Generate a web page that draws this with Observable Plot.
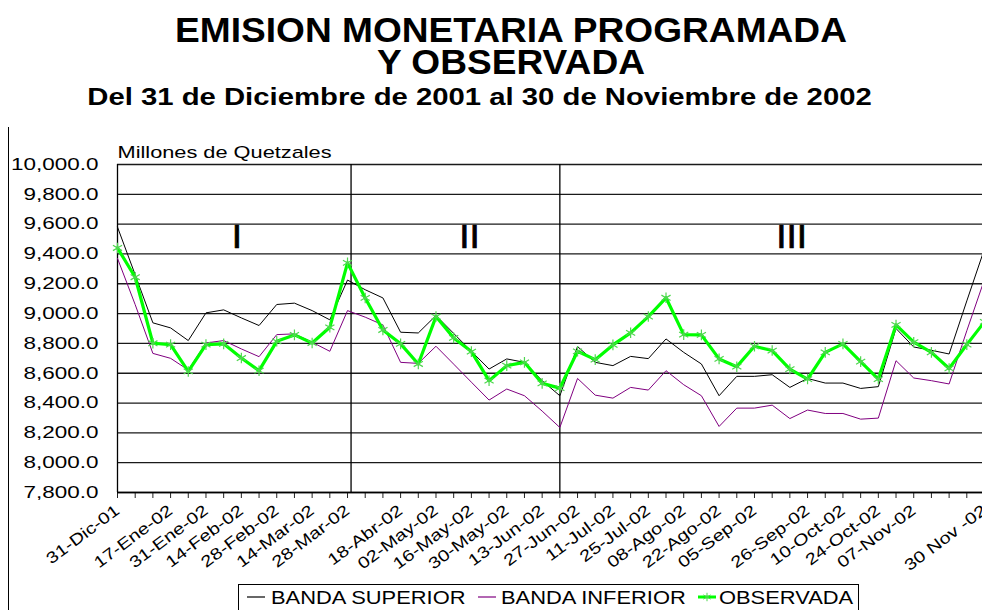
<!DOCTYPE html>
<html>
<head>
<meta charset="utf-8">
<script src="https://cdn.jsdelivr.net/npm/d3@7"></script>
<script src="https://cdn.jsdelivr.net/npm/@observablehq/plot@0.6"></script>
<style>
  body { margin: 0; background: #fff; }
  #wrap { position: relative; width: 982px; height: 610px; overflow: hidden; background: #fff;
          font-family: "Liberation Sans", Arial, sans-serif; color: #000; }
  .t { position: absolute; width: 982px; text-align: center; font-weight: bold; }
  .t span { display: inline-block; }
  #title span { width: 650px; white-space: normal; text-align: center; }
  #sub { white-space: nowrap; }
  #chart { position: absolute; left: 0; top: 120px; }
  #border { position: absolute; left: 8px; top: 127px; width: 1px; height: 490px; background: #000; }
  #legend { position: absolute; left: 238px; top: 584px; width: 621px; height: 34px; border: 1px solid #000; box-sizing: border-box; }
  .lg { position: absolute; font-size: 17.5px; line-height: 1; white-space: nowrap; transform-origin: left center; }
  .sw { position: absolute; }
</style>
</head>
<body>
<div id="wrap">
  <div class="t" id="title" style="left:20px;top:14px;font-size:35px;line-height:32px"><span style="transform:scaleX(1.06)">EMISION MONETARIA PROGRAMADA Y OBSERVADA</span></div>
  <div class="t" id="sub" style="left:-11px;top:86px;font-size:24px;line-height:0.9"><span style="transform:scaleX(1.22)">Del 31 de Diciembre de 2001 al 30 de Noviembre de 2002</span></div>
  <div id="border"></div>
  <div id="chart"></div>
</div>
<script>
// ---- data ----
const categories = [
  "31-Dic-01","03-Ene-02","10-Ene-02","17-Ene-02","24-Ene-02","31-Ene-02","07-Feb-02","14-Feb-02",
  "21-Feb-02","28-Feb-02","07-Mar-02","14-Mar-02","21-Mar-02","28-Mar-02","04-Abr-02","11-Abr-02",
  "18-Abr-02","25-Abr-02","02-May-02","09-May-02","16-May-02","23-May-02","30-May-02","06-Jun-02",
  "13-Jun-02","20-Jun-02","27-Jun-02","04-Jul-02","11-Jul-02","18-Jul-02","25-Jul-02","01-Ago-02",
  "08-Ago-02","15-Ago-02","22-Ago-02","29-Ago-02","05-Sep-02","12-Sep-02","19-Sep-02","26-Sep-02",
  "03-Oct-02","10-Oct-02","17-Oct-02","24-Oct-02","31-Oct-02","07-Nov-02","14-Nov-02","21-Nov-02",
  "28-Nov-02","30 Nov -02"
];
const shownLabels = [
  "31-Dic-01","17-Ene-02","31-Ene-02","14-Feb-02","28-Feb-02","14-Mar-02","28-Mar-02","18-Abr-02",
  "02-May-02","16-May-02","30-May-02","13-Jun-02","27-Jun-02","11-Jul-02","25-Jul-02","08-Ago-02",
  "22-Ago-02","05-Sep-02","26-Sep-02","10-Oct-02","24-Oct-02","07-Nov-02","30 Nov -02"
];
const bandaSuperior = [
  9580, 9260, 8938, 8904, 8819, 9005, 9025, 8971, 8920, 9061,
  9070, 9020, 8958, 9225, 9160, 9105, 8875, 8870, 8987, 8867,
  8747, 8628, 8696, 8673, 8550, 8449, 8779, 8673, 8651, 8713,
  8698, 8830, 8740, 8662, 8449, 8579, 8579, 8590, 8505, 8565,
  8534, 8534, 8498, 8510, 8900, 8776, 8754, 8729, 9085, 9435
];
const bandaInferior = [
  9370, 9060, 8733, 8700, 8622, 8803, 8819, 8763, 8711, 8859,
  8864, 8808, 8747, 9020, 8976, 8924, 8673, 8666, 8781, 8661,
  8540, 8420, 8494, 8449, 8346, 8236, 8565, 8453, 8433, 8505,
  8487, 8617, 8523, 8449, 8243, 8366, 8366, 8386, 8296, 8353,
  8330, 8330, 8292, 8299, 8684, 8568, 8550, 8528, 8885, 9230
];
const observada = [
  9440, 9244, 8801, 8792, 8612, 8792, 8797, 8702, 8617, 8814,
  8857, 8803, 8908, 9340, 9105, 8890, 8797, 8662, 8980, 8837,
  8745, 8550, 8651, 8673, 8532, 8500, 8747, 8691, 8790, 8871,
  8980, 9106, 8859, 8857, 8696, 8644, 8781, 8752, 8628, 8561,
  8740, 8797, 8678, 8561, 8924, 8808, 8740, 8632, 8792, 8945
];
const yTicks = [7800, 8000, 8200, 8400, 8600, 8800, 9000, 9200, 9400, 9600, 9800, 10000];
const seriesNames = ["BANDA SUPERIOR", "BANDA INFERIOR", "OBSERVADA"];
const sectionLabels = ["I", "II", "III"];
const sectionStarts = [0, 13.2, 25];      // category index where each period begins
const sectionLabelAt = [6.75, 19.9, 38.1]; // category index of each period's label
const unitLabel = "Millones de Quetzales";

// ---- table built from the arrays ----
const rows = categories.map((c, i) => ({i, c, bs: bandaSuperior[i], bi: bandaInferior[i], obs: observada[i]}));
const sections = sectionLabels.map((label, j) => ({label, start: sectionStarts[j], at: sectionLabelAt[j]}));

const colors = {bs: "#000000", bi: "#800080", obs: "#00ff00", marker: "#4fd64f"};
const font = '"Liberation Sans", Arial, sans-serif';

const chart = Plot.plot({
  width: 982,
  height: 460,
  marginLeft: 117,
  marginRight: -2,
  marginTop: 44,
  marginBottom: 88,
  style: {fontFamily: font, fontSize: "16px", color: "#000", background: "transparent"},
  x: {type: "linear", domain: [0, categories.length - 1]},
  y: {domain: [yTicks[0], yTicks[yTicks.length - 1]]},
  marks: [
    Plot.gridY(yTicks, {stroke: "#1a1a1a", strokeOpacity: 1, strokeWidth: 1.3}),
    Plot.axisY(yTicks, {tickSize: 0, tickPadding: 19, tickFormat: d3.format(",.1f"), label: null, fontSize: 16.5}),
    Plot.axisX(d3.range(categories.length), {
      tickSize: 6, tickPadding: 10, tickRotate: -37, label: null, fontSize: 16, stroke: "#222",
      tickFormat: i => shownLabels.includes(categories[i]) ? categories[i] : ""
    }),
    Plot.ruleX([0], {stroke: "#000", strokeWidth: 1.3}),
    Plot.ruleY([yTicks[0]], {stroke: "#000", strokeWidth: 1.3}),
    Plot.ruleX(sections.slice(1), {x: "start", y1: yTicks[0], y2: yTicks[yTicks.length - 1], stroke: "#000", strokeWidth: 1.3}),
    Plot.text(sections, {x: "at", y: 9511, text: "label", fontSize: 33, fill: "#000", stroke: "#000", strokeWidth: 0.7}),
    Plot.text([unitLabel], {frameAnchor: "top-left", textAnchor: "start", lineAnchor: "bottom", dy: -7, fontSize: 17, fill: "#000"}),
    Plot.line(rows, {x: "i", y: "bs", stroke: colors.bs, strokeWidth: 1}),
    Plot.line(rows, {x: "i", y: "bi", stroke: colors.bi, strokeWidth: 1}),
    Plot.line(rows, {x: "i", y: "obs", stroke: colors.obs, strokeWidth: 3.2}),
    Plot.dot(rows, {x: "i", y: "obs", symbol: "asterisk", r: 5, stroke: colors.marker, strokeWidth: 1.2})
  ]
});
document.getElementById("chart").appendChild(chart);

// widen the texts as in the reference picture
function stretchEl(t, f) {
  const w = t.getComputedTextLength();
  if (w > 0) {
    t.setAttribute("textLength", (w * f).toFixed(1));
    t.setAttribute("lengthAdjust", "spacingAndGlyphs");
  }
}
chart.querySelectorAll('g[aria-label="y-axis tick label"] text').forEach(t => stretchEl(t, 1.36));
chart.querySelectorAll('g[aria-label="x-axis tick label"] text').forEach(t => stretchEl(t, 1.25));
chart.querySelectorAll('g[aria-label="text"] text').forEach(t => {
  stretchEl(t, t.textContent === unitLabel ? 1.28 : 1.12);
});

// ---- legend ----
const wrap = document.getElementById("wrap");
const legend = document.createElement("div");
legend.id = "legend";
wrap.appendChild(legend);
const swatchX = [8, 239, 459];
const textX = [32, 262, 480];
const keys = ["bs", "bi", "obs"];
seriesNames.forEach((name, j) => {
  const sw = document.createElementNS("http://www.w3.org/2000/svg", "svg");
  sw.setAttribute("class", "sw");
  sw.setAttribute("width", 20);
  sw.setAttribute("height", 14);
  sw.style.left = swatchX[j] + "px";
  sw.style.top = "5px";
  const k = keys[j];
  const ln = document.createElementNS("http://www.w3.org/2000/svg", "line");
  ln.setAttribute("x1", 0); ln.setAttribute("x2", 18); ln.setAttribute("y1", 7); ln.setAttribute("y2", 7);
  ln.setAttribute("stroke", colors[k]);
  ln.setAttribute("stroke-width", k === "obs" ? 3 : 1.2);
  sw.appendChild(ln);
  if (k === "obs") {
    const path = document.createElementNS("http://www.w3.org/2000/svg", "path");
    path.setAttribute("d", d3.symbol(d3.symbolAsterisk, 50)());
    path.setAttribute("transform", "translate(9,7)");
    path.setAttribute("stroke", colors.marker);
    path.setAttribute("fill", "none");
    sw.appendChild(path);
  }
  legend.appendChild(sw);
  const tx = document.createElement("div");
  tx.className = "lg";
  tx.textContent = name;
  tx.style.left = textX[j] + "px";
  tx.style.top = "5px";
  tx.style.transform = "scaleX(1.25)";
  legend.appendChild(tx);
});
</script>
</body>
</html>
